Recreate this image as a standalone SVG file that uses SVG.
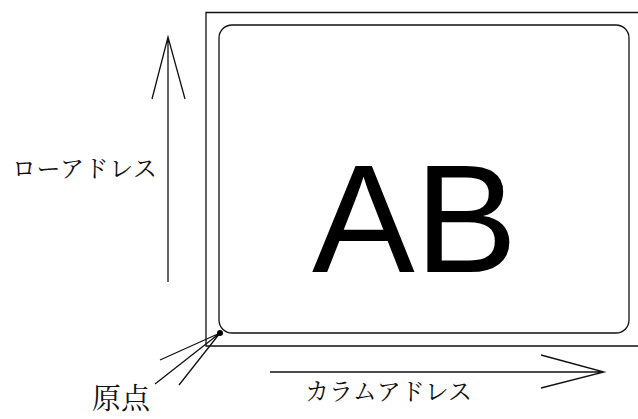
<svg xmlns="http://www.w3.org/2000/svg" width="638" height="419" viewBox="0 0 638 419">
<style>
.ln{fill:none;stroke:#111;stroke-width:1.3}
.jp{font-family:"Noto Serif CJK JP","Noto Sans CJK JP",serif;fill:#111}
</style>
<rect width="638" height="419" fill="#fff"/>
<g id="frame">
<path class="ln" d="M 640 12.5 H 206 V 346 H 640"/>
</g>
<g id="area">
<rect class="ln" x="219" y="25" width="410" height="308" rx="13" ry="13"/>
<text x="312" y="272" font-family="'Liberation Sans',Arial,sans-serif" font-size="154" fill="#000">AB</text>
</g>
<g id="connectors">
<path class="ln" d="M 168 282 V 37 M 152 99 L 168 37 L 185 99"/>
<path class="ln" d="M 270 372 H 604 M 541 355 L 604 372 L 541 388"/>
<path class="ln" d="M 220 333 L 160 360 M 220 333 L 155 384 M 220 333 L 179 385"/>
<circle cx="220" cy="333" r="3" fill="#000"/>
</g>
<g id="labels">
<text class="jp" x="12" y="177" font-size="24" textLength="145">ローアドレス</text>
<text class="jp" x="305" y="400" font-size="24">カラムアドレス</text>
<text class="jp" x="92" y="409" font-size="29">原点</text>
</g>
</svg>
